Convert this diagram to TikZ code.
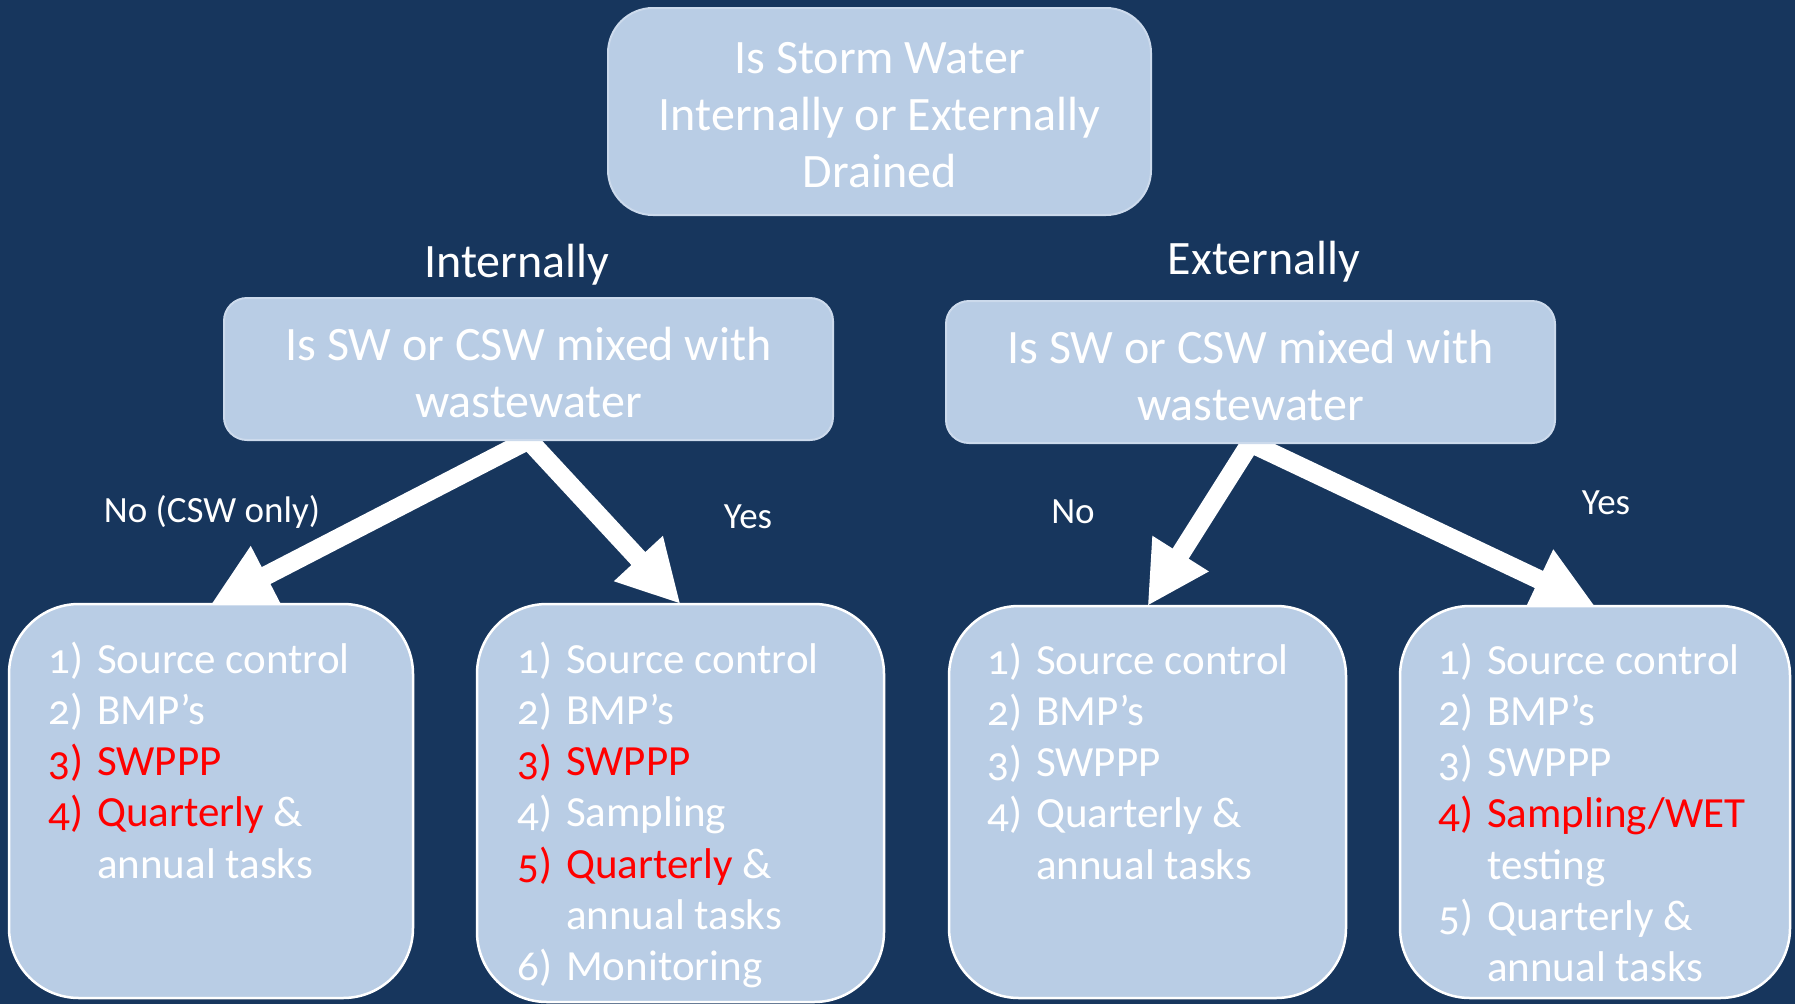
\documentclass[tikz,border=0pt]{standalone}
\usepackage{fontspec}
\setmainfont{Carlito}[Numbers=OldStyle]
\usetikzlibrary{arrows.meta,backgrounds}
\definecolor{bgnavy}{HTML}{17365D}
\definecolor{boxfill}{HTML}{B9CDE5}
\definecolor{boxline}{HTML}{CCDAEC}
\definecolor{alertred}{HTML}{FF0000}
\newcommand{\li}[2]{\makebox[49pt][l]{#1}#2}
\newcommand{\rd}[1]{\textcolor{alertred}{#1}}
\begin{document}
\begin{tikzpicture}[x=1pt,y=-1pt,
  qbox/.style={draw=boxline, line width=2pt, fill=boxfill, inner sep=0pt, outer sep=0pt},
  qtext/.style={text=white, inner sep=0pt, align=center, font=\fontsize{48}{57}\selectfont},
  listbox/.style={draw=white, line width=2.5pt, fill=boxfill, inner sep=0pt, outer sep=0pt,
     rounded corners=70pt},
  item/.style={text=white, inner sep=0pt, anchor=base west, font=\fontsize{43}{51}\selectfont},
  biglabel/.style={text=white, inner sep=0pt, font=\fontsize{48}{57}\selectfont},
  smalllabel/.style={text=white, inner sep=0pt, font=\fontsize{37}{44}\selectfont},
  bigarrow/.style={draw=white, line width=19pt, -{Triangle[length=62pt,width=62pt]}, fill=white}
]
\useasboundingbox (0,0) rectangle (1795,1004);

% question boxes
\node[qbox, rounded corners=45pt, minimum width=543pt, minimum height=207pt] (top) at (879.5,111.5) {};
\node[qtext] (topT) at (879.5,115) {Is Storm Water\\Internally or Externally\\Drained};
\node[qbox, rounded corners=23pt, minimum width=609pt, minimum height=142pt] (midL) at (528.5,369) {};
\node[qtext] (midLT) at (528.5,372.5) {Is SW or CSW mixed with\\wastewater};
\node[qbox, rounded corners=23pt, minimum width=609pt, minimum height=142pt] (midR) at (1250.5,372) {};
\node[qtext] (midRT) at (1250.5,375.5) {Is SW or CSW mixed with\\wastewater};

\node[biglabel] (lblInt) at (517,264.5) {Internally};
\node[biglabel] (lblExt) at (1264,261.5) {Externally};

% result boxes
\node[listbox, minimum width=404pt, minimum height=394pt] (b1) at (211,801) {};
\node[listbox, minimum width=407pt, minimum height=398pt] (b2) at (680.5,803) {};
\node[listbox, minimum width=397pt, minimum height=392pt] (b3) at (1147.5,802) {};
\node[listbox, minimum width=390pt, minimum height=392pt] (b4) at (1595,802) {};

% background and arrows
\begin{scope}[on background layer]
\fill[bgnavy] (0,0) rectangle (1795,1004);
\draw[bigarrow] (midL.south) -- (b1.north);
\draw[bigarrow] (midL.south) -- (b2.north);
\draw[bigarrow] (midR.south) -- (b3.north);
\draw[bigarrow] (midR.south) -- (b4.north);
\end{scope}

\node[smalllabel] (lblNo1) at (212,511.5) {No (CSW only)};
\node[smalllabel] (lblYes1) at (748,517) {Yes};
\node[smalllabel] (lblNo2) at (1073,512) {No};
\node[smalllabel] (lblYes2) at (1606,503) {Yes};

% lists
\foreach \t [count=\i] in {
  {\li{1)}{Source control}},
  {\li{2)}{BMP’s}},
  {\li{\rd{3)}}{\rd{SWPPP}}},
  {\li{\rd{4)}}{\rd{Quarterly} \&}},
  {\li{}{annual tasks}}}
  \node[item] (b1l\i) at (48,{673+(\i-1)*51.3}) {\t};

\foreach \t [count=\i] in {
  {\li{1)}{Source control}},
  {\li{2)}{BMP’s}},
  {\li{\rd{3)}}{\rd{SWPPP}}},
  {\li{4)}{Sampling}},
  {\li{\rd{5)}}{\rd{Quarterly} \&}},
  {\li{}{annual tasks}},
  {\li{6)}{Monitoring}}}
  \node[item] (b2l\i) at (517,{673+(\i-1)*51.3}) {\t};

\foreach \t [count=\i] in {
  {\li{1)}{Source control}},
  {\li{2)}{BMP’s}},
  {\li{3)}{SWPPP}},
  {\li{4)}{Quarterly \&}},
  {\li{}{annual tasks}}}
  \node[item] (b3l\i) at (987,{674+(\i-1)*51.3}) {\t};

\foreach \t [count=\i] in {
  {\li{1)}{Source control}},
  {\li{2)}{BMP’s}},
  {\li{3)}{SWPPP}},
  {\li{\rd{4)}}{\rd{Sampling/WET}}},
  {\li{}{testing}},
  {\li{5)}{Quarterly \&}},
  {\li{}{annual tasks}}}
  \node[item] (b4l\i) at (1438,{674+(\i-1)*51.3}) {\t};
\end{tikzpicture}
\end{document}
